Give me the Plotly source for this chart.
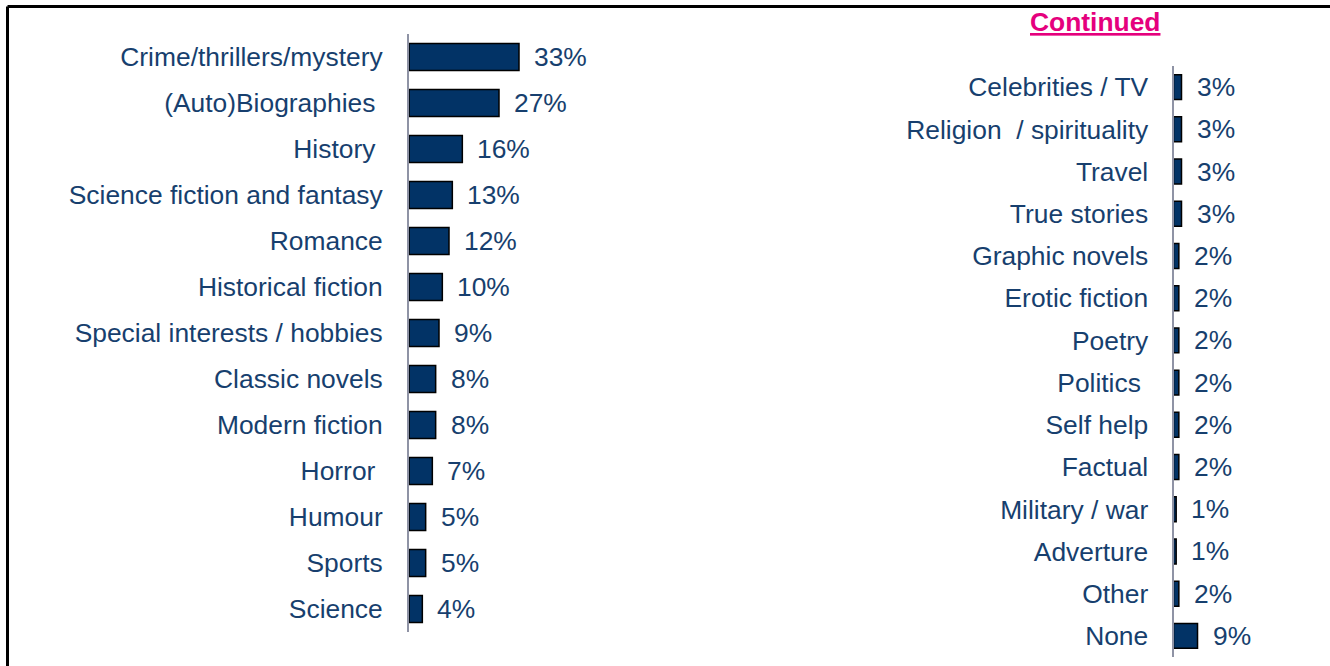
import plotly.graph_objects as go

# Genres read in the last year (share of respondents), split over two panels
left_genres = [
    "Crime/thrillers/mystery", "(Auto)Biographies\u00a0", "History\u00a0",
    "Science fiction and fantasy", "Romance", "Historical fiction",
    "Special interests / hobbies", "Classic novels", "Modern fiction",
    "Horror\u00a0", "Humour", "Sports", "Science",
]
left_pct = [33, 27, 16, 13, 12, 10, 9, 8, 8, 7, 5, 5, 4]

right_genres = [
    "Celebrities / TV", "Religion\u00a0 / spirituality", "Travel", "True stories",
    "Graphic novels", "Erotic fiction", "Poetry", "Politics\u00a0", "Self help",
    "Factual", "Military / war", "Adverture", "Other", "None",
]
right_pct = [3, 3, 3, 3, 2, 2, 2, 2, 2, 2, 1, 1, 2, 9]

W, H = 1330, 666
FONT = "Liberation Sans, Arial, sans-serif"
TEXT = "#173F6E"
BAR = "#023366"
AXIS = "#8F93A5"
FS = 26.4


def fx(px):
    return px / W


def fy(px):
    return 1 - px / H


fig = go.Figure()

fig.add_trace(go.Bar(
    x=left_pct, y=left_genres, orientation="h", width=0.59,
    marker=dict(color=BAR, line=dict(color="#000000", width=1.5)),
    xaxis="x", yaxis="y", hoverinfo="skip",
))
fig.add_trace(go.Bar(
    x=right_pct, y=right_genres, orientation="h", width=0.59,
    marker=dict(color=BAR, line=dict(color="#000000", width=1.5)),
    xaxis="x2", yaxis="y2", hoverinfo="skip",
))

annotations = []
for ref, cats, vals in (("", left_genres, left_pct), ("2", right_genres, right_pct)):
    for c, v in zip(cats, vals):
        annotations.append(dict(
            x=v, y=c, xref="x" + ref, yref="y" + ref, text=f"{v}%",
            xanchor="left", yanchor="middle", xshift=13, showarrow=False,
            font=dict(family=FONT, size=FS, color=TEXT),
        ))

annotations.append(dict(
    x=fx(1095), y=fy(22), xref="paper", yref="paper",
    text="<b><u>Continued</u></b>", showarrow=False,
    xanchor="center", yanchor="middle",
    font=dict(family=FONT, size=FS, color="#E5007D"),
))

yax_common = dict(
    type="category", autorange="reversed", showgrid=False, zeroline=False,
    showline=True, linecolor=AXIS, linewidth=2, ticks="",
    tickfont=dict(family=FONT, size=FS, color=TEXT),
)

fig.update_layout(
    width=W, height=H, margin=dict(l=0, r=0, t=0, b=0),
    paper_bgcolor="white", plot_bgcolor="white", showlegend=False,
    font=dict(family=FONT, color=TEXT),
    xaxis=dict(domain=[fx(409), fx(609)], range=[0, 60], visible=False,
               anchor="y"),
    yaxis=dict(domain=[fy(632), fy(34)], anchor="x", ticklabelstandoff=19,
               categoryorder="array", categoryarray=left_genres, **yax_common),
    xaxis2=dict(domain=[fx(1173.5), 1.0], range=[0, 156.5 / 2.67],
                visible=False, anchor="y2"),
    yaxis2=dict(domain=[fy(657), fy(66)], anchor="x2", ticklabelstandoff=18,
                categoryorder="array", categoryarray=right_genres, **yax_common),
    annotations=annotations,
    shapes=[
        dict(type="line", xref="paper", yref="paper",
             x0=fx(7.5), x1=1.0, y0=fy(6.5), y1=fy(6.5),
             line=dict(color="black", width=3)),
        dict(type="line", xref="paper", yref="paper",
             x0=fx(7.5), x1=fx(7.5), y0=fy(6.5), y1=0,
             line=dict(color="black", width=3)),
    ],
)

fig.write_html("out.html")
